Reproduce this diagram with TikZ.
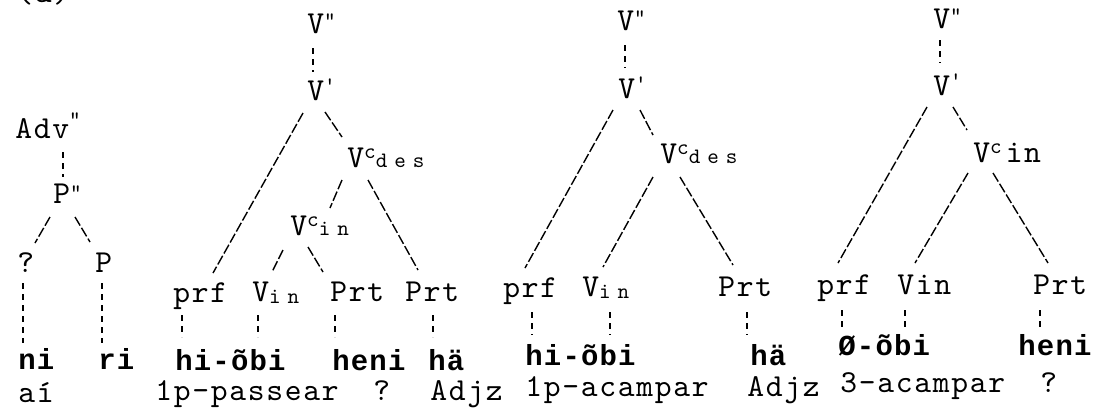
\documentclass[tikz,border=0pt]{standalone}
\usepackage{fontspec}
\newfontfamily\labfont{lmmono10-regular.otf}[LetterSpace=5.3]
\newfontfamily\smfont{lmmono10-regular.otf}[LetterSpace=31.6]
\newfontfamily\wordfont{Liberation Mono}[LetterSpace=4]
\newcommand\lab{\labfont\fontsize{16}{18}\selectfont}
\newcommand\smt{\smfont\fontsize{11}{13}\selectfont}
\newcommand\wrd{\wordfont\bfseries\fontsize{14.5}{17}\selectfont}
\tikzset{
  lb/.style={font=\lab, inner sep=0pt, anchor=base west},
  wd/.style={font=\wrd, inner sep=0pt, anchor=base west},
  br/.style={line width=0.7pt, dash pattern=on 5pt off 1.3pt},
  vt/.style={line width=0.7pt, dash pattern=on 3pt off 2.5pt},
}
\begin{document}
\begin{tikzpicture}[x=0.5pt,y=-0.5pt]
\useasboundingbox (0,0) rectangle (1096,414);
% ---------- tree 1 ----------
\node[lb] (lbl) at (16,2) {(a)};
\node[lb] (t1adv) at (15,138) {Adv\raisebox{6pt}{\smt"}};
\node[lb] (t1pp) at (53,203) {P\raisebox{2pt}{\smt"}};
\node[lb] (t1q) at (17,272) {?};
\node[lb] (t1p) at (95,272) {P};
\node[wd] (t1ni) at (18,369) {ni};
\node[wd] (t1ri) at (98,369) {ri};
\node[lb] (t1ai) at (18,402) {aí};
\draw[vt] ([shift={(48,14)}]t1adv.base west) -- ([shift={(10,-26)}]t1pp.base west);
\draw[br] ([shift={(-3,14)}]t1pp.base west) -- ([shift={(18,-29)}]t1q.base west);
\draw[br] ([shift={(22,14)}]t1pp.base west) -- ([shift={(-5,-30)}]t1p.base west);
\draw[vt] ([shift={(6,11)}]t1q.base west) -- ([shift={(5,-26)}]t1ni.base west);
\draw[vt] ([shift={(7,11)}]t1p.base west) -- ([shift={(4,-26)}]t1ri.base west);
% ---------- tree 2 ----------
\node[lb] (t2vv) at (307,33) {V\raisebox{3pt}{\smt"}};
\node[lb] (t2v) at (307,100) {V\raisebox{4pt}{\smt'}};
\node[lb] (t2des) at (347,167) {V\raisebox{4.5pt}{\smt c}{\smt des}};
\node[lb] (t2in) at (290,235) {V\raisebox{4.5pt}{\smt c}{\smt in}};
\node[lb] (t2prf) at (173,302) {prf};
\node[lb] (t2vin) at (252,301) {V\raisebox{-1pt}{\smt in}};
\node[lb] (t2prta) at (330,301) {Prt};
\node[lb] (t2prtb) at (405,301) {Prt};
\node[wd] (t2wa) at (175,370) {hi-õbi};
\node[wd] (t2wb) at (332,370) {heni};
\node[wd] (t2wc) at (428,370) {hä};
\node[lb] (t2ga) at (155,400) {1p-passear};
\node[lb] (t2gb) at (373,400) {?};
\node[lb] (t2gc) at (430,400) {Adjz};
\draw[vt] ([shift={(6,15)}]t2vv.base west) -- ([shift={(6,-28)}]t2v.base west);
\draw[br] ([shift={(-4,13)}]t2v.base west) -- ([shift={(40,-29)}]t2prf.base west);
\draw[br] ([shift={(18,12)}]t2v.base west) -- ([shift={(-5,-30)}]t2des.base west);
\draw[br] ([shift={(-5,13)}]t2des.base west) -- ([shift={(40,-27)}]t2in.base west);
\draw[br] ([shift={(21,13)}]t2des.base west) -- ([shift={(13,-31)}]t2prtb.base west);
\draw[br] ([shift={(-7,15)}]t2in.base west) -- ([shift={(20,-29)}]t2vin.base west);
\draw[br] ([shift={(18,12)}]t2in.base west) -- ([shift={(-7,-29)}]t2prta.base west);
\draw[vt] ([shift={(9,13)}]t2prf.base west) -- ([shift={(7,-33)}]t2wa.base west);
\draw[vt] ([shift={(6,14)}]t2vin.base west) -- ([shift={(83,-33)}]t2wa.base west);
\draw[vt] ([shift={(5,14)}]t2prta.base west) -- ([shift={(3,-33)}]t2wb.base west);
\draw[vt] ([shift={(28,14)}]t2prtb.base west) -- ([shift={(5,-33)}]t2wc.base west);
% ---------- tree 3 ----------
\node[lb] (t3vv) at (617,30) {V\raisebox{3pt}{\smt"}};
\node[lb] (t3v) at (618,98) {V\raisebox{4pt}{\smt'}};
\node[lb] (t3des) at (660,163) {V\raisebox{4.5pt}{\smt c}{\smt des}};
\node[lb] (t3prf) at (503,297) {prf};
\node[lb] (t3vin) at (582,296) {V\raisebox{-1pt}{\smt in}};
\node[lb] (t3prt) at (718,296) {Prt};
\node[wd] (t3wa) at (525,365) {hi-õbi};
\node[wd] (t3wb) at (750,365) {hä};
\node[lb] (t3ga) at (525,396) {1p-acampar};
\node[lb] (t3gb) at (747,396) {Adjz};
\draw[vt] ([shift={(8,15)}]t3vv.base west) -- ([shift={(7,-30)}]t3v.base west);
\draw[br] ([shift={(-5,12)}]t3v.base west) -- ([shift={(22,-29)}]t3prf.base west);
\draw[br] ([shift={(22,12)}]t3v.base west) -- ([shift={(-7,-28)}]t3des.base west);
\draw[br] ([shift={(-7,14)}]t3des.base west) -- ([shift={(21,-29)}]t3vin.base west);
\draw[br] ([shift={(20,14)}]t3des.base west) -- ([shift={(15,-31)}]t3prt.base west);
\draw[vt] ([shift={(29,15)}]t3prf.base west) -- ([shift={(7,-30)}]t3wa.base west);
\draw[vt] ([shift={(28,16)}]t3vin.base west) -- ([shift={(85,-30)}]t3wa.base west);
\draw[vt] ([shift={(29,16)}]t3prt.base west) -- ([shift={(-3,-30)}]t3wb.base west);
% ---------- tree 4 ----------
\node[lb] (t4vv) at (933,28) {V\raisebox{3pt}{\smt"}};
\node[lb] (t4v) at (933,95) {V\raisebox{4pt}{\smt'}};
\node[lb] (t4in) at (973,162) {V\raisebox{4.5pt}{\smt c}\hspace{2pt}in};
\node[lb] (t4prf) at (817,294) {prf};
\node[lb] (t4vin) at (897,294) {Vin};
\node[lb] (t4prt) at (1033,294) {Prt};
\node[wd] (t4wa) at (838,355) {Ø-õbi};
\node[wd] (t4wb) at (1018,355) {heni};
\node[lb] (t4ga) at (840,392) {3-acampar};
\node[lb] (t4gb) at (1040,392) {?};
\draw[vt] ([shift={(7,12)}]t4vv.base west) -- ([shift={(7,-32)}]t4v.base west);
\draw[br] ([shift={(-6,12)}]t4v.base west) -- ([shift={(21,-31)}]t4prf.base west);
\draw[br] ([shift={(20,12)}]t4v.base west) -- ([shift={(-6,-32)}]t4in.base west);
\draw[br] ([shift={(-5,11)}]t4in.base west) -- ([shift={(18,-31)}]t4vin.base west);
\draw[br] ([shift={(20,11)}]t4in.base west) -- ([shift={(15,-31)}]t4prt.base west);
\draw[vt] ([shift={(25,16)}]t4prf.base west) -- ([shift={(4,-27)}]t4wa.base west);
\draw[vt] ([shift={(8,16)}]t4vin.base west) -- ([shift={(67,-27)}]t4wa.base west);
\draw[vt] ([shift={(7,16)}]t4prt.base west) -- ([shift={(22,-27)}]t4wb.base west);
\end{tikzpicture}
\end{document}
